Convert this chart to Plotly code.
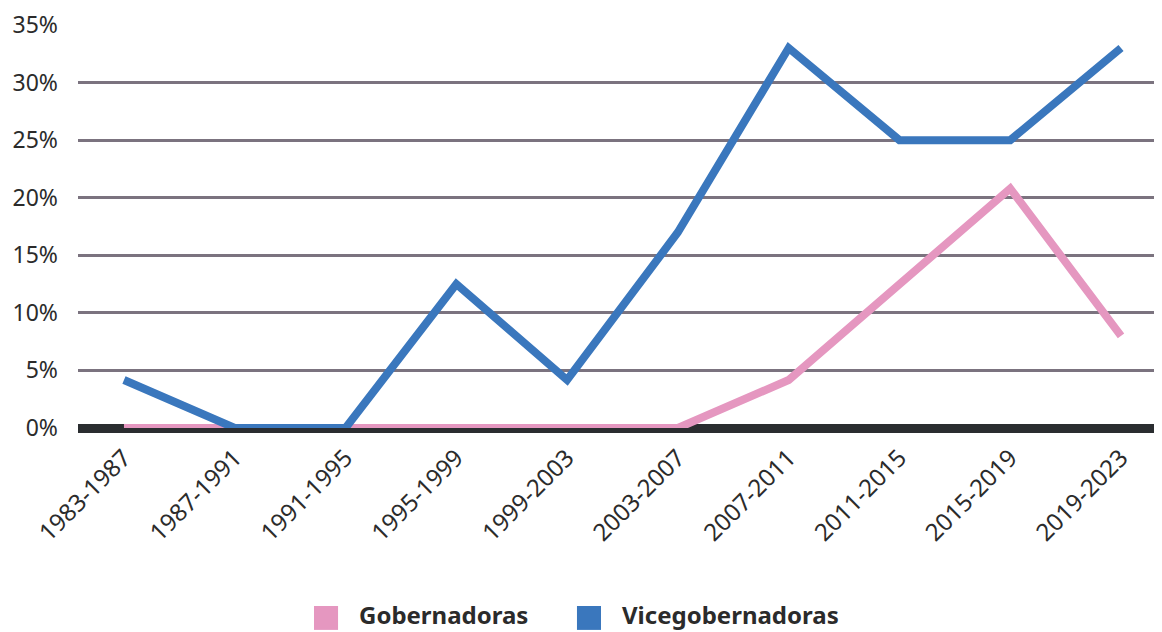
import plotly.graph_objects as go

periods = ["1983-1987", "1987-1991", "1991-1995", "1995-1999", "1999-2003",
           "2003-2007", "2007-2011", "2011-2015", "2015-2019", "2019-2023"]
gobernadoras = [0, 0, 0, 0, 0, 0, 0.0417, 0.125, 0.208, 0.08]
vicegobernadoras = [0.0417, 0, 0, 0.125, 0.0417, 0.17, 0.33, 0.25, 0.25, 0.33]
y_ticks = [0, 0.05, 0.10, 0.15, 0.20, 0.25, 0.30, 0.35]
series_names = ["Gobernadoras", "Vicegobernadoras"]

PINK = "#e597c0"
BLUE = "#3a77bd"
FONT = "Noto Sans"
TXT = "#2b2b2b"

fig = go.Figure()
fig.add_trace(go.Scatter(x=periods, y=gobernadoras, mode="lines", name=series_names[0],
                         line=dict(color=PINK, width=8), cliponaxis=False))
fig.add_trace(go.Scatter(x=periods, y=vicegobernadoras, mode="lines", name=series_names[1],
                         line=dict(color=BLUE, width=8), cliponaxis=False))

# manual legend (large square swatches)
legend_items = [(series_names[0], PINK, 0.2177, 0.2574), (series_names[1], BLUE, 0.4603, 0.5)]
for name, col, sx, tx in legend_items:
    fig.add_shape(type="rect", xref="paper", yref="paper",
                  x0=sx, x1=sx + 0.0222, y0=-0.501, y1=-0.4417,
                  fillcolor=col, line=dict(width=0))
    fig.add_annotation(text=name, xref="paper", yref="paper", x=tx, y=-0.464,
                       xanchor="left", yanchor="middle", showarrow=False,
                       font=dict(family=FONT, size=24, color=TXT, weight="bold"))

fig.update_layout(
    width=1154, height=624,
    margin=dict(l=70, r=0, t=17, b=204),
    paper_bgcolor="white", plot_bgcolor="white",
    font=dict(family=FONT, size=22, color=TXT),
    showlegend=False,
)
fig.update_xaxes(type="category", range=[-0.415, 9.37], tickangle=-45,
                 showgrid=False, showline=False, ticks="", ticklabelstandoff=10,
                 tickfont=dict(family=FONT, size=24, color=TXT))
fig.update_yaxes(range=[0, 0.35], tickvals=y_ticks, tickformat=".0%",
                 showgrid=True, gridcolor="#7b737f", gridwidth=3,
                 zeroline=True, zerolinecolor="#2a2d30", zerolinewidth=9,
                 showline=False, ticks="", ticklabelstandoff=19,
                 tickfont=dict(family=FONT, size=23, color=TXT))

fig.write_html("out.html")
